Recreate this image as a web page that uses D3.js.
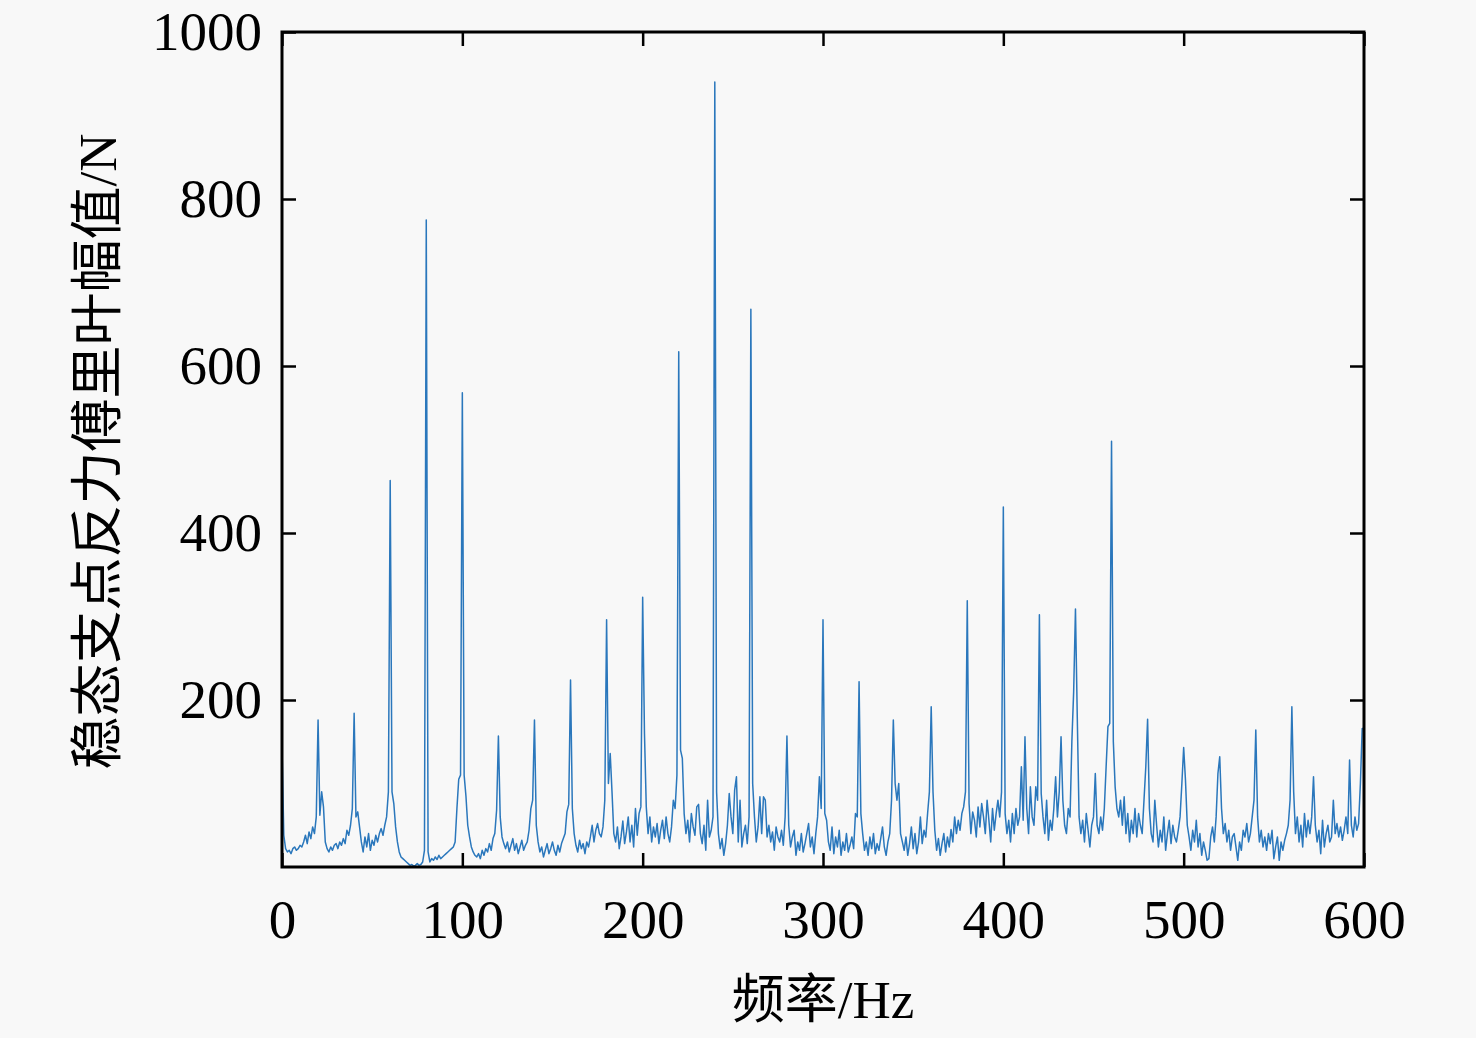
<!DOCTYPE html>
<html>
<head>
<meta charset="utf-8">
<script src="https://cdn.jsdelivr.net/npm/d3@7"></script>
<style>
  html, body { margin: 0; padding: 0; background: #f8f8f8; }
  svg { display: block; }
</style>
</head>
<body>
<div id="chart"></div>
<script>
// frequency step of the spectrum (Hz), amplitudes at 0,1,2...600 Hz
const freqStep = 1;
const amplitude = [
  145, 38, 22, 18, 20, 16, 22, 24, 20, 22,
  26, 24, 30, 38, 28, 42, 34, 48, 40, 60,
  176, 62, 90, 72, 30, 22, 18, 24, 20, 26,
  28, 22, 30, 26, 34, 28, 44, 38, 50, 70,
  184, 60, 66, 48, 30, 18, 36, 24, 40, 20,
  32, 26, 38, 30, 40, 46, 38, 50, 60, 90,
  463, 90, 76, 48, 30, 18, 12, 10, 8, 6,
  4, 2, 3, 1, 2, 4, 2, 3, 6, 20,
  775, 18, 6, 10, 8, 12, 9, 14, 10, 12,
  14, 16, 18, 20, 22, 24, 30, 70, 105, 110,
  568, 110, 85, 50, 36, 24, 18, 14, 12, 16,
  10, 20, 14, 22, 18, 28, 20, 34, 40, 68,
  157, 60, 36, 28, 22, 30, 18, 26, 34, 20,
  28, 16, 24, 32, 20, 26, 30, 44, 70, 80,
  176, 50, 30, 18, 24, 12, 20, 28, 16, 22,
  30, 20, 14, 26, 18, 28, 34, 40, 66, 75,
  224, 70, 40, 26, 18, 32, 22, 28, 16, 30,
  24, 36, 50, 30, 44, 52, 40, 36, 48, 80,
  296, 100, 136, 90, 40, 30, 48, 22, 36, 55,
  28, 42, 60, 30, 50, 24, 70, 38, 64, 72,
  323, 160, 72, 40, 60, 30, 48, 36, 52, 28,
  44, 56, 34, 60, 40, 30, 48, 80, 70, 110,
  617, 140, 130, 64, 40, 56, 30, 64, 48, 38,
  72, 75, 40, 28, 50, 20, 80, 36, 44, 60,
  940, 90, 40, 22, 34, 14, 28, 50, 88, 60,
  40, 92, 108, 30, 80, 24, 40, 50, 28, 60,
  668, 100, 60, 30, 48, 84, 40, 84, 80, 36,
  50, 30, 42, 20, 48, 36, 30, 44, 26, 60,
  157, 50, 24, 36, 44, 14, 30, 20, 40, 18,
  28, 40, 52, 24, 36, 16, 40, 60, 108, 70,
  296, 64, 56, 30, 20, 48, 16, 36, 24, 44,
  14, 30, 20, 40, 18, 26, 36, 22, 64, 60,
  222, 64, 40, 20, 30, 14, 36, 22, 40, 16,
  28, 20, 34, 48, 24, 14, 30, 40, 80, 176,
  100, 80, 100, 40, 30, 20, 36, 14, 28, 48,
  22, 40, 16, 30, 60, 28, 44, 36, 64, 90,
  192, 90, 44, 20, 34, 14, 28, 40, 18, 36,
  24, 45, 30, 60, 40, 56, 44, 64, 72, 90,
  319, 76, 40, 66, 56, 36, 72, 48, 76, 60,
  40, 80, 56, 30, 70, 44, 64, 80, 60, 90,
  431, 64, 40, 56, 30, 64, 40, 70, 50, 60,
  120, 56, 156, 70, 40, 96, 60, 50, 96, 80,
  302, 88, 60, 40, 80, 32, 56, 44, 70, 108,
  60, 90, 156, 80, 50, 40, 70, 60, 150, 210,
  309, 180, 60, 40, 56, 30, 64, 44, 24, 50,
  60, 112, 50, 40, 60, 44, 70, 120, 168, 172,
  510, 150, 96, 70, 60, 80, 50, 84, 40, 64,
  30, 56, 40, 70, 36, 64, 50, 40, 80, 120,
  177, 70, 40, 30, 80, 50, 24, 44, 30, 60,
  20, 40, 56, 28, 50, 36, 30, 44, 60, 100,
  143, 104, 50, 36, 20, 44, 30, 56, 24, 40,
  14, 30, 20, 8, 10, 36, 48, 30, 60, 112,
  132, 70, 40, 52, 30, 44, 20, 36, 40, 24,
  8, 30, 20, 44, 36, 52, 30, 40, 60, 80,
  164, 60, 30, 44, 24, 36, 20, 40, 28, 44,
  10, 24, 36, 8, 30, 20, 32, 40, 50, 80,
  192, 90, 40, 60, 30, 50, 24, 64, 36, 56,
  40, 60, 108, 50, 30, 44, 16, 56, 24, 40,
  50, 30, 36, 80, 40, 52, 36, 48, 32, 44,
  60, 40, 128, 50, 36, 60, 44, 52, 100, 166,
  166
];
const xTicks = [0, 100, 200, 300, 400, 500, 600];
const yTicks = [200, 400, 600, 800, 1000];
const xLabel = '频率/Hz';
const yLabel = '稳态支点反力傅里叶幅值/N';

const W = 1476, H = 1038;
const margin = { left: 282, right: 112, top: 32, bottom: 171 };
const innerW = W - margin.left - margin.right;
const innerH = H - margin.top - margin.bottom;
const font = '"Liberation Serif", "Times New Roman", "Noto Sans CJK SC", serif';

const svg = d3.select('#chart').append('svg')
  .attr('width', W).attr('height', H)
  .style('background', '#f8f8f8');

const g = svg.append('g').attr('transform', `translate(${margin.left},${margin.top})`);

const x = d3.scaleLinear().domain([0, 600]).range([0, innerW]);
const y = d3.scaleLinear().domain([0, 1000]).range([innerH, 0]);

const data = amplitude.map((v, i) => ({ f: i * freqStep, v }));

// spectrum line
g.append('path')
  .datum(data)
  .attr('fill', 'none')
  .attr('stroke', '#2a77bc')
  .attr('stroke-width', 1.5)
  .attr('stroke-linejoin', 'round')
  .attr('d', d3.line().x(d => x(d.f)).y(d => y(d.v)));

// axes, ticks pointing inward on all four sides
const tickLen = 14;
const styleAxis = sel => {
  sel.select('.domain').remove();
  sel.selectAll('line').attr('stroke', '#000').attr('stroke-width', 2.5);
  sel.selectAll('text').style('font-family', font).style('font-size', '55px').attr('fill', '#000');
};

g.append('g')
  .attr('transform', `translate(0,${innerH})`)
  .call(d3.axisBottom(x).tickValues(xTicks).tickSize(-tickLen).tickPadding(tickLen + 18).tickFormat(d3.format('d')))
  .call(styleAxis);

g.append('g')
  .call(d3.axisTop(x).tickValues(xTicks).tickSize(-tickLen).tickFormat(''))
  .call(styleAxis);

g.append('g')
  .call(d3.axisLeft(y).tickValues(yTicks).tickSize(-tickLen).tickPadding(tickLen + 6).tickFormat(d3.format('d')))
  .call(styleAxis);

g.append('g')
  .attr('transform', `translate(${innerW},0)`)
  .call(d3.axisRight(y).tickValues(yTicks).tickSize(-tickLen).tickFormat(''))
  .call(styleAxis);

// frame
g.append('rect')
  .attr('width', innerW).attr('height', innerH)
  .attr('fill', 'none').attr('stroke', '#000').attr('stroke-width', 3);

// axis titles
svg.append('text')
  .attr('x', margin.left + innerW / 2)
  .attr('y', 1018)
  .attr('text-anchor', 'middle')
  .style('font-family', font).style('font-size', '53px')
  .text(xLabel);

svg.append('text')
  .attr('transform', `translate(116,${margin.top + innerH / 2 + 2}) rotate(-90)`)
  .attr('text-anchor', 'middle')
  .style('font-family', font).style('font-size', '53px')
  .text(yLabel);
</script>
</body>
</html>
